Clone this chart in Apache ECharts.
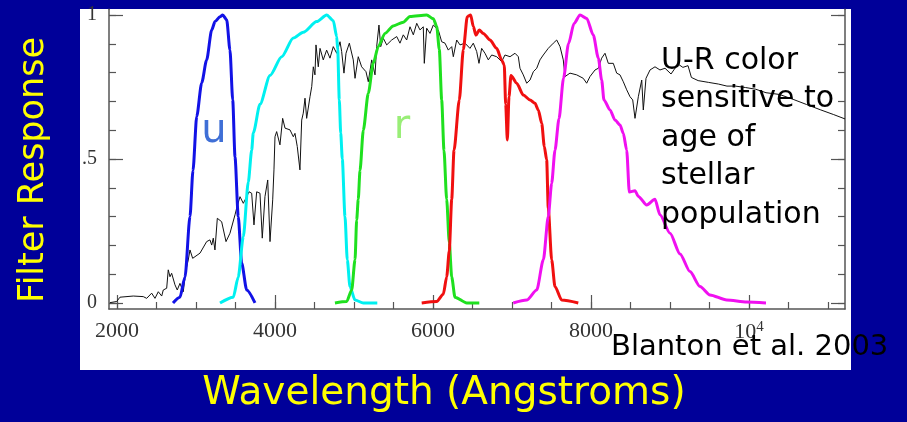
<!DOCTYPE html>
<html>
<head>
<meta charset="utf-8">
<script src="https://cdn.jsdelivr.net/npm/echarts@6/dist/echarts.min.js"></script>
<style>
html,body{margin:0;padding:0;background:#000099;}
#chart{width:907px;height:422px;}
</style>
</head>
<body>
<div id="chart"></div>
<script>
// ---- Data (wavelength in Angstroms, normalized response) ----
const xMajorTicks = [2000, 4000, 6000, 8000, 10000];
const xMinorTicks = [2000,2500,3000,3500,4000,4500,5000,5500,6000,6500,7000,7500,8000,8500,9000,9500,10000,10500,11000];
const yMajorTicks = [0, 0.5, 1];
const yMinorTicks = [0,0.1,0.2,0.3,0.4,0.5,0.6,0.7,0.8,0.9,1];
const yTickLabels = ['0', '.5', '1'];

const specWl = [
  1911,1996,2038,2206,2333,2376,2439,2481,2523,2566,
  2586,2629,2649,2671,2692,2734,2763,2797,2839,2873,
  2902,2924,2958,3051,3135,3177,3199,3219,3240,3270,
  3325,3380,3430,3494,3515,3557,3599,3642,3671,3705,
  3734,3768,3810,3839,3873,3908,3937,3971,3987,4000,
  4021,4063,4097,4127,4190,4232,4253,4282,4316,4338,
  4358,4380,4401,4443,4465,4485,4506,4519,4548,4570,
  4611,4654,4696,4738,4781,4823,4844,4873,4899,4941,
  4991,5013,5054,5097,5152,5181,5224,5266,5287,5316,
  5338,5371,5414,5477,5541,5582,5624,5667,5709,5751,
  5794,5835,5877,5890,5920,5962,6004,6067,6110,6152,
  6194,6237,6257,6300,6342,6405,6468,6510,6553,6582,
  6616,6658,6700,6743,6806,6869,6911,6975,7038,7080,
  7101,7143,7186,7228,7270,7313,7354,7396,7459,7523,
  7566,7608,7649,7671,7734,7819,7902,7945,7987,8051,
  8093,8135,8177,8219,8282,8325,8367,8409,8452,8494,
  8528,8557,8599,8642,8662,8696,8747,8810,8873,8937,
  9013,9056,9099,9163,9228,9271,9356,9485,9614,9721,
  9828,9957,10086,10215,10386,10558,10729,10901,11072,11215
];
const specFlux = [
  0.001,0.005,0.020,0.024,0.022,0.016,0.034,0.016,0.039,0.024,
  0.045,0.051,0.115,0.091,0.103,0.063,0.045,0.068,0.039,0.115,
  0.149,0.184,0.155,0.173,0.213,0.219,0.201,0.225,0.184,0.294,
  0.282,0.213,0.242,0.306,0.329,0.369,0.346,0.369,0.386,0.381,
  0.271,0.386,0.381,0.225,0.369,0.427,0.213,0.358,0.462,0.577,
  0.595,0.549,0.641,0.607,0.601,0.577,0.589,0.543,0.462,0.635,
  0.659,0.711,0.641,0.716,0.751,0.820,0.792,0.896,0.820,0.884,
  0.844,0.878,0.850,0.890,0.867,0.907,0.873,0.798,0.867,0.902,
  0.844,0.780,0.855,0.820,0.803,0.768,0.844,0.792,0.890,0.965,
  0.890,0.919,0.896,0.913,0.925,0.902,0.931,0.913,0.959,0.931,
  0.971,0.948,0.959,0.832,0.954,0.936,0.965,0.948,0.907,0.902,
  0.878,0.890,0.855,0.913,0.896,0.902,0.884,0.902,0.873,0.832,
  0.884,0.867,0.844,0.861,0.855,0.838,0.861,0.855,0.867,0.855,
  0.815,0.792,0.763,0.774,0.803,0.815,0.844,0.861,0.884,0.902,
  0.913,0.890,0.844,0.786,0.798,0.792,0.780,0.763,0.786,0.809,
  0.815,0.850,0.867,0.832,0.832,0.798,0.792,0.768,0.740,0.716,
  0.705,0.641,0.716,0.774,0.670,0.780,0.809,0.820,0.809,0.815,
  0.795,0.812,0.830,0.818,0.824,0.783,0.772,0.766,0.760,0.753,
  0.753,0.748,0.742,0.730,0.724,0.707,0.689,0.671,0.654,0.639
];

const uWl   = [2709,2797,2861,2924,2962,3009,3072,3135,3199,3241,3304,3338,3389,3430,3465,3494,3535,3578,3642,3747];
const uResp = [0,0.02,0.09,0.30,0.46,0.647,0.764,0.844,0.948,0.977,0.994,1.0,0.983,0.878,0.705,0.507,0.30,0.139,0.045,0];

const gWl   = [3304,3472,3535,3599,3662,3705,3725,3810,3937,4085,4232,4358,4528,4654,4738,4781,4794,4814,4832,4852,4886,4915,4949,5013,5118,5295];
const gResp = [0,0.02,0.09,0.23,0.42,0.53,0.59,0.69,0.79,0.855,0.92,0.94,0.977,1.0,0.98,0.925,0.88,0.705,0.59,0.5,0.30,0.15,0.057,0.01,0,0];

const rWl   = [4759,4907,4971,5013,5034,5054,5076,5118,5181,5244,5307,5392,5497,5624,5709,5920,6004,6047,6080,6110,6139,6173,6206,6237,6278,6427,6586];
const rResp = [0,0.005,0.045,0.15,0.288,0.36,0.46,0.60,0.728,0.832,0.89,0.936,0.962,0.975,0.995,1.0,0.987,0.96,0.88,0.705,0.53,0.36,0.21,0.09,0.02,0,0];

const iWl   = [5857,6047,6130,6173,6206,6237,6266,6333,6384,6434,6477,6510,6544,6586,6637,6722,6806,6869,6902,6920,6941,6962,6987,7059,7143,7228,7291,7333,7376,7409,7439,7459,7502,7544,7629,7839];
const iResp = [0,0.005,0.03,0.09,0.18,0.36,0.53,0.705,0.88,0.994,1.0,0.96,0.93,0.948,0.936,0.913,0.884,0.844,0.826,0.69,0.566,0.716,0.79,0.763,0.722,0.705,0.693,0.67,0.624,0.543,0.497,0.33,0.15,0.057,0.01,0];

const zWl   = [7016,7186,7313,7397,7459,7502,7544,7595,7652,7715,7785,7861,7946,8029,8093,8135,8164,8241,8304,8367,8409,8452,8485,8557,8599,8705,8810,8873,9000,9127,9253,9380,9506,9718,9971,10215];
const zResp = [0,0.01,0.045,0.15,0.30,0.415,0.53,0.64,0.78,0.9,0.97,1.0,0.988,0.93,0.85,0.774,0.705,0.67,0.635,0.618,0.589,0.53,0.385,0.39,0.37,0.34,0.36,0.306,0.242,0.17,0.109,0.057,0.028,0.01,0.003,0];

const noteLines = ['U-R color', 'sensitive to', 'age of', 'stellar', 'population'];

function zip(xs, ys) {
  const n = Math.min(xs.length, ys.length);
  const out = [];
  for (let i = 0; i < n; i++) out.push([xs[i], ys[i]]);
  return out;
}

const X_MIN = 1899, X_MAX = 11215, Y_MIN = -0.021, Y_MAX = 1.02;
const axisColor = '#555';

function xAxisDef(ticks, len, showLine, showLabel) {
  return {
    type: 'value', min: X_MIN, max: X_MAX, position: 'bottom',
    axisLine: { show: showLine, onZero: false, lineStyle: { color: axisColor, width: 1.5 } },
    axisTick: { show: true, inside: true, length: len, customValues: ticks, lineStyle: { color: axisColor, width: 1.2 } },
    axisLabel: showLabel ? {
      show: true, customValues: ticks, margin: 11,
      fontFamily: 'Liberation Serif', fontSize: 22, color: '#333',
      formatter: function (v) { return v === 10000 ? '10{s|4}' : String(v); },
      rich: { s: { fontFamily: 'Liberation Serif', fontSize: 15, color: '#333', verticalAlign: 'top', padding: [0, 0, 10, 0] } }
    } : { show: false },
    splitLine: { show: false }
  };
}
function yAxisDef(ticks, len, pos, showLine, showLabel) {
  return {
    type: 'value', min: Y_MIN, max: Y_MAX, position: pos,
    axisLine: { show: showLine, onZero: false, lineStyle: { color: axisColor, width: 1.5 } },
    axisTick: { show: true, inside: true, length: len, customValues: ticks, lineStyle: { color: axisColor, width: 1.2 } },
    axisLabel: showLabel ? {
      show: true, customValues: ticks, margin: 12,
      fontFamily: 'Liberation Serif', fontSize: 20, color: '#333',
      formatter: function (v) { const k = yMajorTicks.indexOf(v); return k >= 0 ? yTickLabels[k] : ''; }
    } : { show: false },
    splitLine: { show: false }
  };
}

function filterSeries(name, xs, ys, color) {
  return {
    name: name, type: 'line', data: zip(xs, ys), showSymbol: false,
    smooth: 0.25, smoothMonotone: 'x',
    lineStyle: { color: color, width: 3 }, z: 4, silent: true
  };
}

const chart = echarts.init(document.getElementById('chart'), null, { renderer: 'canvas' });
chart.setOption({
  animation: false,
  backgroundColor: 'transparent',
  grid: { left: 109, right: 62, top: 9.2, bottom: 113, containLabel: false },
  xAxis: [
    xAxisDef(xMajorTicks, 14, true, true),
    xAxisDef(xMinorTicks, 7, false, false)
  ],
  yAxis: [
    yAxisDef(yMajorTicks, 14, 'left', true, true),
    yAxisDef(yMinorTicks, 7, 'left', false, false),
    yAxisDef(yMajorTicks, 14, 'right', true, false),
    yAxisDef(yMinorTicks, 7, 'right', false, false)
  ],
  series: [
    { name: 'spectrum', type: 'line', data: zip(specWl, specFlux), showSymbol: false,
      lineStyle: { color: '#111', width: 1 }, z: 3, silent: true },
    filterSeries('u', uWl, uResp, '#1212e6'),
    filterSeries('g', gWl, gResp, '#00f0f0'),
    filterSeries('r', rWl, rResp, '#1fe01f'),
    filterSeries('i', iWl, iResp, '#f01010'),
    filterSeries('z', zWl, zResp, '#f010f0')
  ],
  graphic: [
    { type: 'rect', silent: true, z: -10, shape: { x: 80, y: 9, width: 771, height: 361 }, style: { fill: '#ffffff' } },
    { type: 'text', silent: true, z: 100, x: 34, y: 170, rotation: Math.PI / 2,
      style: { text: 'Filter Response', fill: '#ffff00', font: '35px "DejaVu Sans"', align: 'center', verticalAlign: 'middle' } },
    { type: 'text', silent: true, z: 100, x: 444, y: 394,
      style: { text: 'Wavelength (Angstroms)', fill: '#ffff00', font: '39px "DejaVu Sans"', align: 'center', verticalAlign: 'middle' } },
    { type: 'text', silent: true, z: 100, x: 611, y: 347,
      style: { text: 'Blanton et al. 2003', fill: '#000', font: '29px "DejaVu Sans"', align: 'left', verticalAlign: 'middle' } },
    { type: 'text', silent: true, z: 100, x: 661, y: 41.75,
      style: { text: noteLines.join('\n'), fill: '#000', font: '30px "DejaVu Sans"', lineHeight: 38.5, align: 'left', verticalAlign: 'top' } },
    { type: 'text', silent: true, z: 100, x: 214, y: 132,
      style: { text: 'u', fill: '#3f6fd6', font: '40px "DejaVu Sans"', align: 'center', verticalAlign: 'middle' } },
    { type: 'text', silent: true, z: 100, x: 402, y: 128,
      style: { text: 'r', fill: '#99ee77', font: '40px "DejaVu Sans"', align: 'center', verticalAlign: 'middle' } }
  ]
});
</script>
</body>
</html>
